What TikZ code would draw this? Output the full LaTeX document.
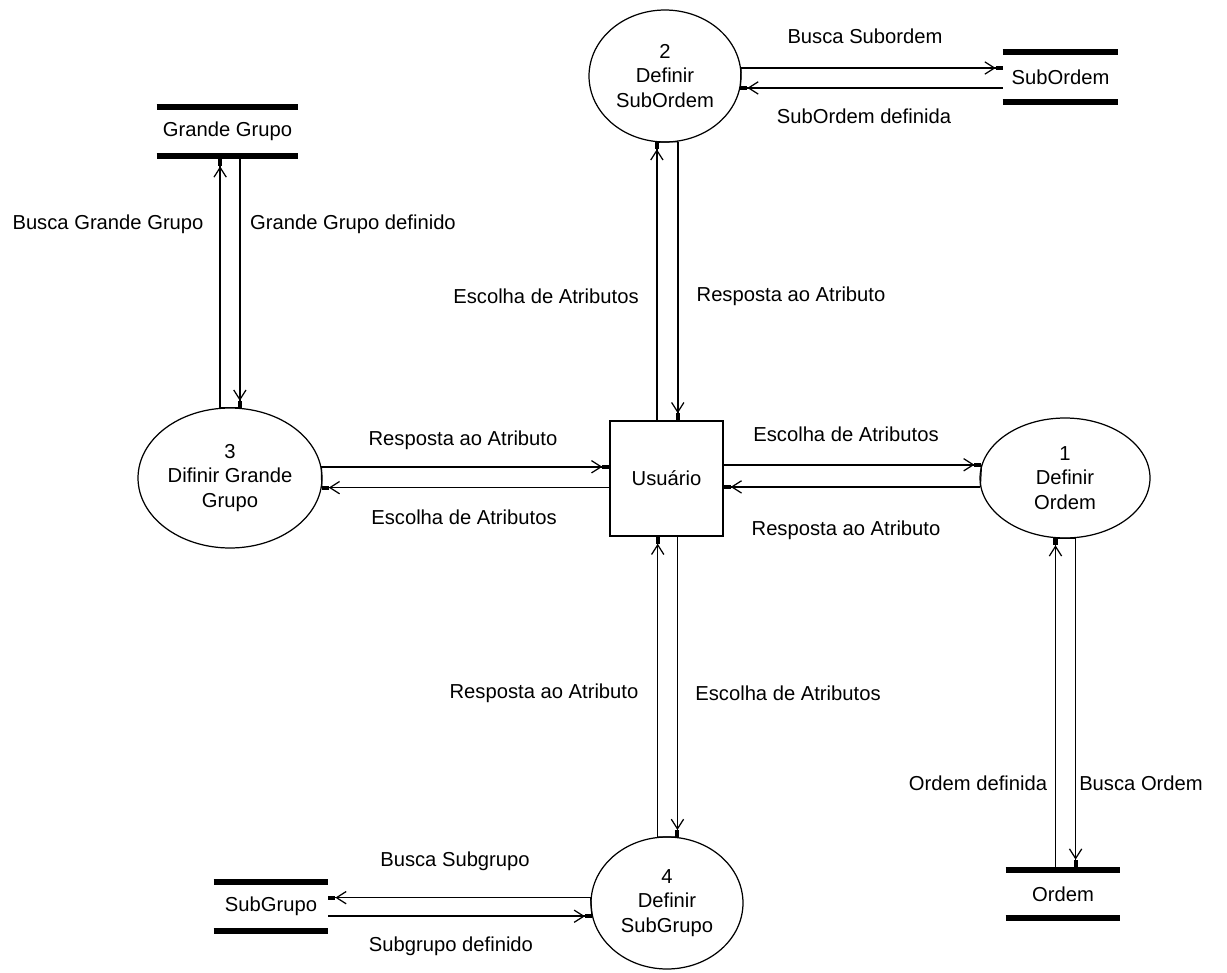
\documentclass[tikz,border=0pt]{standalone}
\usepackage{fontspec}
\setmainfont{Liberation Sans}
\usetikzlibrary{shapes.geometric,arrows.meta}

\tikzset{
  every node/.style={font=\fontsize{11.5}{14}\selectfont},
  process/.style={ellipse, draw, line width=0.7pt, inner sep=0pt, align=center},
  entity/.style={rectangle, draw, line width=0.8pt, inner sep=0pt,
                 minimum width=2.26cm, minimum height=2.30cm},
  storebar/.style={draw, line width=3.4pt, line cap=butt},
  store/.style={rectangle, inner sep=0pt,
    append after command={
      (\tikzlastnode.north west) edge[storebar] (\tikzlastnode.north east)
      (\tikzlastnode.south west) edge[storebar] (\tikzlastnode.south east)}},
  flowline/.style={draw, line width=0.85pt,
    -{Straight Barb[length=5.5pt,width=7pt,line width=0.7pt]Rectangle[length=4pt,width=2.3pt]}},
  chord/.style={draw, line width=0.7pt},
  lbl/.style={inner sep=1pt}
}

\begin{document}
\begin{tikzpicture}[x=0.02cm, y=-0.02cm]
\useasboundingbox (0,0) rectangle (1227,973);

% external entity
\node[entity] (box) at (666.5,478.5) {Usuário};

% processes
\node[process, minimum width=3.04cm, minimum height=2.64cm] (c2) at (665,76) {2\\Definir\\SubOrdem};
\node[process, minimum width=3.68cm, minimum height=2.80cm] (c3) at (230,478) {3\\Difinir Grande\\Grupo};
\node[process, minimum width=3.40cm, minimum height=2.40cm] (c1) at (1065,478) {1\\Definir\\Ordem};
\node[process, minimum width=3.04cm, minimum height=2.64cm] (c4) at (667,903) {4\\Definir\\SubGrupo};

% data stores
\node[store, minimum width=2.30cm, minimum height=1.00cm] (sSub) at (1060.5,77) {SubOrdem};
\node[store, minimum width=2.82cm, minimum height=0.98cm] (sGG) at (227.5,131.5) {Grande Grupo};
\node[store, minimum width=2.28cm, minimum height=0.96cm] (sOrd) at (1063,894) {Ordem};
\node[store, minimum width=2.28cm, minimum height=0.98cm] (sSG) at (271,906.5) {SubGrupo};

% flows: process 2 <-> SubOrdem
\draw[flowline] (c2.6.06) -- (c2.6.06 -| sSub.west);
\draw[flowline] (sSub.west |- c2.-9.13) -- (c2.-9.13);
\draw[chord] (c2.6.06) -- (c2.-9.13);

% flows: process 3 <-> Grande Grupo
\draw[flowline, shorten >=1.7pt] (c3.98.18) -- (c3.98.18 |- sGG.south);
\draw[flowline] (sGG.south -| c3.82.64) -- (c3.82.64);
\draw[chord] (c3.98.18) -- (c3.82.64);

% flows: process 3 <-> Usuario
\draw[flowline] (c3.7.54) -- (c3.7.54 -| box.west);
\draw[flowline] (box.west |- c3.-6.27) -- (c3.-6.27);
\draw[chord] (c3.7.54) -- (c3.-6.27);

% flows: Usuario <-> process 1
\draw[flowline] (box.east |- c1.171.8) -- (c1.171.8);
\draw[flowline] (c1.186.8) -- (c1.186.8 -| box.east);
\draw[chord] (c1.171.8) -- (c1.186.8);

% flows: Usuario <-> process 2
\draw[flowline] (box.north -| c2.-97) -- (c2.-97);
\draw[flowline] (c2.-79.6) -- (c2.-79.6 |- box.north);
\draw[chord] (c2.-97) -- (c2.-79.6);

% flows: Usuario <-> process 4
\draw[flowline] (c4.98.7) -- (c4.98.7 |- box.south);
\draw[flowline] (box.south -| c4.81.3) -- (c4.81.3);
\draw[chord] (c4.98.7) -- (c4.81.3);

% flows: process 1 <-> Ordem
\draw[flowline] (sOrd.north -| c1.-99.5) -- (c1.-99.5);
\draw[flowline, shorten >=1.7pt] (c1.-80.5) -- (c1.-80.5 |- sOrd.north);
\draw[chord] (c1.-99.5) -- (c1.-80.5);

% flows: process 4 <-> SubGrupo
\draw[flowline] (c4.176.2) -- (c4.176.2 -| sSG.east);
\draw[flowline] (sSG.east |- c4.190.67) -- (c4.190.67);
\draw[chord] (c4.176.2) -- (c4.190.67);

% flow labels
\node[lbl] (t1)  at (865,36)  {Busca Subordem};
\node[lbl] (t2)  at (864,116) {SubOrdem definida};
\node[lbl] (t3)  at (108,224) {Busca Grande Grupo};
\node[lbl] (t4)  at (353,224) {Grande Grupo definido};
\node[lbl] (t5)  at (546,296) {Escolha de Atributos};
\node[lbl] (t6)  at (791,296) {Resposta ao Atributo};
\node[lbl] (t7)  at (463,440) {Resposta ao Atributo};
\node[lbl] (t8)  at (464,517) {Escolha de Atributos};
\node[lbl] (t9)  at (846,434) {Escolha de Atributos};
\node[lbl] (t10) at (846,530) {Resposta ao Atributo};
\node[lbl] (t11) at (544,693) {Resposta ao Atributo};
\node[lbl] (t12) at (788,693) {Escolha de Atributos};
\node[lbl] (t13) at (978,783) {Ordem definida};
\node[lbl] (t14) at (1141,783) {Busca Ordem};
\node[lbl] (t15) at (455,861) {Busca Subgrupo};
\node[lbl] (t16) at (451,946) {Subgrupo definido};
\end{tikzpicture}
\end{document}
